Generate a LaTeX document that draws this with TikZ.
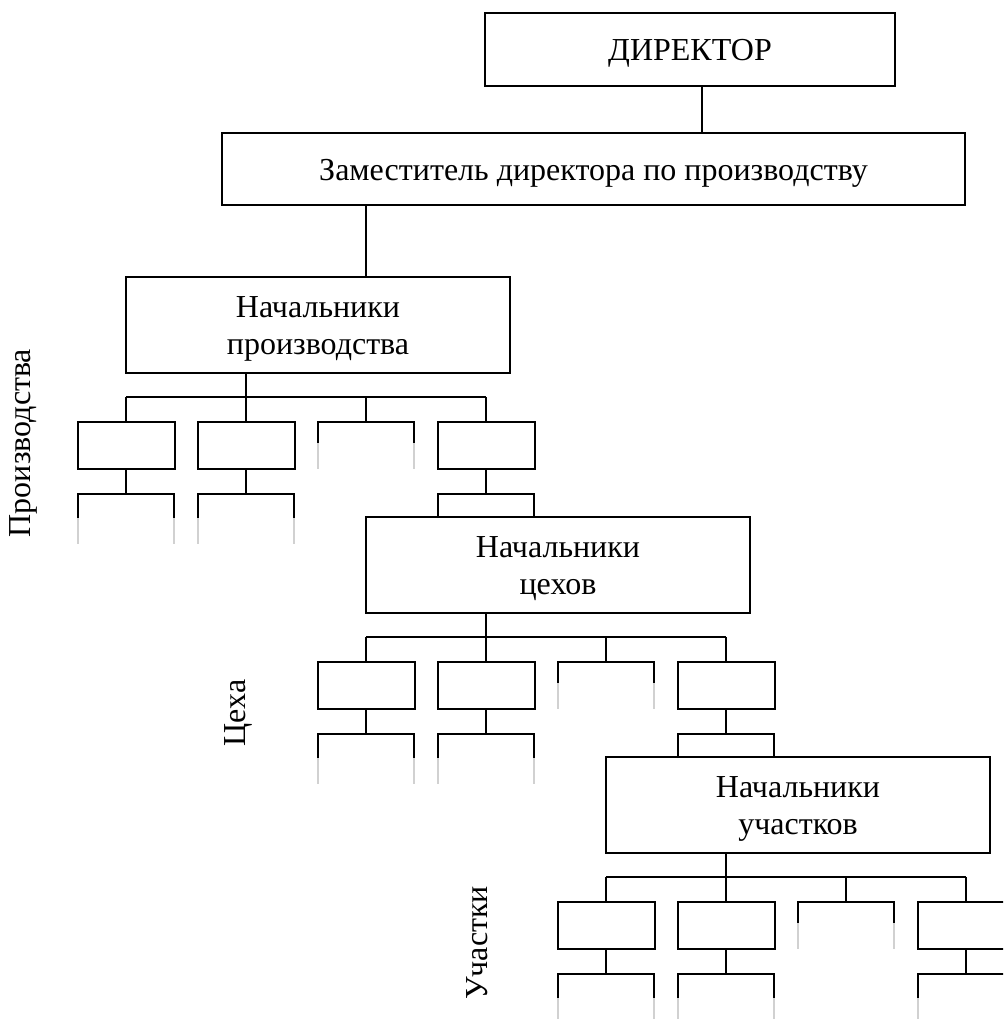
\documentclass[tikz,border=0pt]{standalone}
\usepackage{fontspec}
\setmainfont{Liberation Serif}
\usetikzlibrary{calc}

\tikzset{
  txt/.style={font=\fontsize{24}{27.75}\selectfont, align=center},
  boxtext/.style={label={[txt, yshift=-3pt]center:{#1}}},
  framebox/.style={draw, line width=1.5pt, inner sep=0pt},
  topbox/.style={framebox, minimum width=307.5pt, minimum height=54.75pt},
  deputybox/.style={framebox, minimum width=557.25pt, minimum height=54pt},
  headbox/.style={framebox, minimum width=288pt, minimum height=72pt},
  unitbox/.style={draw, line width=1.5pt, minimum width=72.75pt, minimum height=35.25pt, inner sep=0pt},
  link/.style={line width=1.5pt},
  faint/.style={line width=0.8pt, draw=black!18},
  sidelabel/.style={txt, rotate=90, inner sep=0pt}
}

\begin{document}
\begin{tikzpicture}[x=0.75pt, y=-0.75pt]
\useasboundingbox (0,0) rectangle (1003,1019);
\clip (0,0) rectangle (1003,1019);

% top of the hierarchy
\node[topbox, boxtext={ДИРЕКТОР}] (dir) at (690,49.5) {};
\node[deputybox, boxtext={Заместитель директора по производству}] (dep) at (593.5,169) {};

% heads of the three levels
\node[headbox, boxtext={Начальники\\производства}] (boss-a) at (318,325) {};
\node[headbox, boxtext={Начальники\\цехов}] (boss-b) at (558,565) {};
\node[headbox, boxtext={Начальники\\участков}] (boss-c) at (798,805) {};

% side captions
\node[sidelabel] (lab-a) at (23,443) {Производства};
\node[sidelabel] (lab-b) at (238,713) {Цеха};
\node[sidelabel] (lab-c) at (477,943) {Участки};

% director -> deputy -> first head
\draw[link] ($(dir.south)+(12,0)$) coordinate (u) -- (u |- dep.north);
\draw[link] ($(boss-a.north)+(48,0)$) coordinate (t) -- (t |- dep.south);

% one branch level: four units under each head
\foreach \L/\d in {a/0,b/240,c/480} {
  \node[unitbox] (s\L1) at (126+\d,445.5+\d) {};
  \node[unitbox] (s\L2) at (246+\d,445.5+\d) {};
  \node[unitbox] (s\L4) at (486+\d,445.5+\d) {};
  \coordinate (open-\L) at (366+\d,422+\d);
  \coordinate (bus-\L) at (246+\d,397+\d);

  % head -> bus -> units
  \draw[link] ($(boss-\L.south)+(-72,0)$) -- (bus-\L);
  \draw[link] (bus-\L -| s\L1.north) -- (bus-\L -| s\L4.north);
  \foreach \k in {1,2,4} {
    \draw[link] (bus-\L -| s\L\k.north) -- (s\L\k.north);
  }
  \draw[link] (bus-\L -| open-\L) -- (open-\L);

  % open unit without a bottom
  \draw[link] ($(open-\L)+(-48,21)$) -- ($(open-\L)+(-48,0)$)
              -- ($(open-\L)+(48,0)$) -- ($(open-\L)+(48,21)$);
  \draw[faint] ($(open-\L)+(-48,21)$) -- ($(open-\L)+(-48,47)$);
  \draw[faint] ($(open-\L)+(48,21)$) -- ($(open-\L)+(48,47)$);

  % brackets under the units
  \foreach \k in {1,2,4} {
    \draw[link] (s\L\k.south) -- ++(0,24) coordinate (br-\L\k);
    \draw[link] ($(br-\L\k)+(-48,24)$) -- ($(br-\L\k)+(-48,0)$)
                -- ($(br-\L\k)+(48,0)$) -- ($(br-\L\k)+(48,24)$);
  }
  \foreach \k in {1,2} {
    \draw[faint] ($(br-\L\k)+(-48,24)$) -- ($(br-\L\k)+(-48,50)$);
    \draw[faint] ($(br-\L\k)+(48,24)$) -- ($(br-\L\k)+(48,50)$);
  }
}
\draw[faint] ($(br-c4)+(-48,24)$) -- ($(br-c4)+(-48,50)$);
\end{tikzpicture}
\end{document}
